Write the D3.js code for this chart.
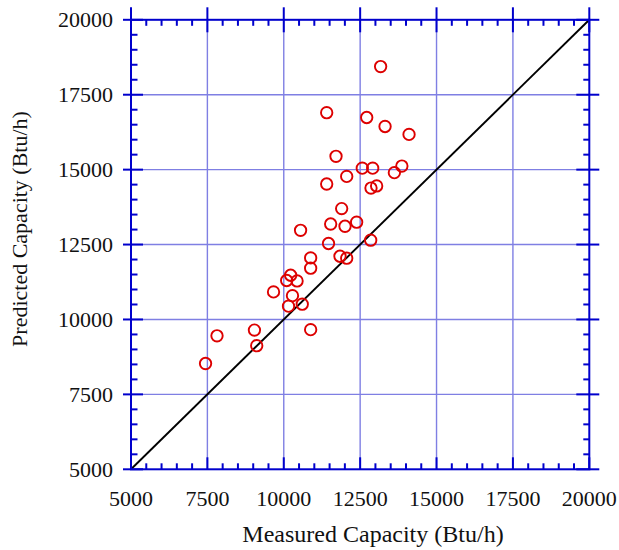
<!DOCTYPE html>
<html>
<head>
<meta charset="utf-8">
<script src="https://cdn.jsdelivr.net/npm/d3@7"></script>
<style>
  body { margin: 0; background: #fff; }
</style>
</head>
<body>
<svg id="chart" width="619" height="550"></svg>
<script>
// measured vs predicted capacity, Btu/h
const measured = [7440, 7815, 9040, 9115, 9665, 10225, 10095, 10435, 10285, 10155,
                  10605, 10880, 10880, 10880, 10550, 11465, 11535, 12005, 12385, 11895,
                  11840, 12060, 12845, 11405, 12060, 11710, 12570, 12910, 12855, 13040,
                  13620, 13865, 11405, 12715, 13315, 14100, 13170];
const predicted = [8530, 9455, 9645, 9125, 10920, 11475, 11300, 11285, 10795, 10445,
                   10510, 12055, 11710, 9660, 12975, 12535, 13185, 13110, 13245, 13700,
                   12110, 12045, 12645, 14520, 14775, 15445, 15050, 15050, 14385, 14455,
                   14900, 15120, 16900, 16740, 16440, 16175, 18440];
const axis_domain = [5000, 20000];
const major_step = 2500;
const minor_step = 500;
const x_title = "Measured Capacity (Btu/h)";
const y_title = "Predicted Capacity (Btu/h)";

const axis_col = "#0000cc",
      grid_col = "#7f7fe3",
      pt_col = "#dd0000",
      font = "'Liberation Serif', 'DejaVu Serif', serif";

const svg = d3.select("#chart");

const x = d3.scaleLinear().domain(axis_domain).range([131, 589.3]);
const y = d3.scaleLinear().domain(axis_domain).range([469.3, 19.8]);

const majors = d3.range(axis_domain[0], axis_domain[1] + 1, major_step);
const minors = d3.range(axis_domain[0], axis_domain[1] + 1, minor_step)
    .filter(v => v % major_step !== 0);
const inner = majors.filter(v => v > axis_domain[0] && v < axis_domain[1]);

// grid
const grid = svg.append("g").attr("stroke", grid_col).attr("stroke-width", 1.4);
grid.selectAll(".gx").data(inner).enter().append("line")
    .attr("x1", d => x(d)).attr("x2", d => x(d))
    .attr("y1", y.range()[1]).attr("y2", y.range()[0]);
grid.selectAll(".gy").data(inner).enter().append("line")
    .attr("y1", d => y(d)).attr("y2", d => y(d))
    .attr("x1", x.range()[0]).attr("x2", x.range()[1]);

// 1:1 line
svg.append("line")
    .attr("x1", x(axis_domain[0])).attr("y1", y(axis_domain[0]))
    .attr("x2", x(axis_domain[1])).attr("y2", y(axis_domain[1]))
    .attr("stroke", "#000").attr("stroke-width", 1.9);

// frame + ticks
const x0 = x.range()[0], x1 = x.range()[1], y0 = y.range()[0], y1 = y.range()[1];
const frame = svg.append("g").attr("stroke", axis_col).attr("stroke-width", 2);
frame.append("rect")
    .attr("x", x0).attr("y", y1).attr("width", x1 - x0).attr("height", y0 - y1)
    .attr("fill", "none");

// bottom
frame.selectAll(".bM").data(majors).enter().append("line")
    .attr("x1", d => x(d)).attr("x2", d => x(d)).attr("y1", y0).attr("y2", y0 - 12);
frame.selectAll(".bm").data(minors).enter().append("line")
    .attr("x1", d => x(d)).attr("x2", d => x(d)).attr("y1", y0).attr("y2", y0 - 6);
// top
frame.selectAll(".tM").data(majors).enter().append("line")
    .attr("x1", d => x(d)).attr("x2", d => x(d)).attr("y1", y1 - 12.5).attr("y2", y1 + 12.5);
frame.selectAll(".tm").data(minors).enter().append("line")
    .attr("x1", d => x(d)).attr("x2", d => x(d)).attr("y1", y1).attr("y2", y1 + 6);
// left
frame.selectAll(".lM").data(majors).enter().append("line")
    .attr("y1", d => y(d)).attr("y2", d => y(d)).attr("x1", x0 - 8).attr("x2", x0 + 12);
frame.selectAll(".lm").data(minors).enter().append("line")
    .attr("y1", d => y(d)).attr("y2", d => y(d)).attr("x1", x0).attr("x2", x0 + 6.5);
// right
frame.selectAll(".rM").data(majors).enter().append("line")
    .attr("y1", d => y(d)).attr("y2", d => y(d)).attr("x1", x1 - 13).attr("x2", x1 + 10);
frame.selectAll(".rm").data(minors).enter().append("line")
    .attr("y1", d => y(d)).attr("y2", d => y(d)).attr("x1", x1 - 6).attr("x2", x1);

// tick labels
svg.selectAll(".xl").data(majors).enter().append("text")
    .attr("x", d => x(d)).attr("y", 506)
    .attr("text-anchor", "middle")
    .style("font-family", font).style("font-size", "22px").style("fill", "#111")
    .text(d => d);
svg.selectAll(".yl").data(majors).enter().append("text")
    .attr("x", 113).attr("y", d => y(d) + 7.5)
    .attr("text-anchor", "end")
    .style("font-family", font).style("font-size", "22px").style("fill", "#111")
    .text(d => d);

// titles
svg.append("text")
    .attr("x", 373).attr("y", 542)
    .attr("text-anchor", "middle")
    .style("font-family", font).style("font-size", "24px").style("fill", "#111")
    .text(x_title);
svg.append("text")
    .attr("transform", "translate(27,229) rotate(-90)")
    .attr("text-anchor", "middle")
    .style("font-family", font).style("font-size", "22px").style("fill", "#111")
    .text(y_title);

// points
svg.append("g").selectAll("circle")
    .data(measured.map((m, i) => [m, predicted[i]]))
    .enter().append("circle")
    .attr("cx", d => x(d[0]))
    .attr("cy", d => y(d[1]))
    .attr("r", 5.7)
    .attr("fill", "none")
    .attr("stroke", pt_col)
    .attr("stroke-width", 1.9);
</script>
</body>
</html>
